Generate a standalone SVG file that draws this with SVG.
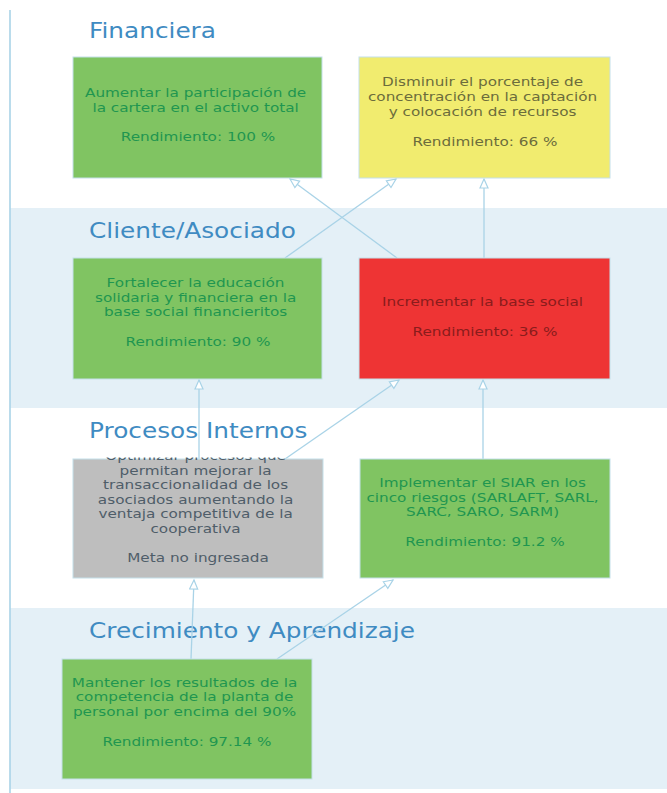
<svg xmlns="http://www.w3.org/2000/svg" width="667" height="793" viewBox="0 0 667 793">
  <style>
    .band { fill: #e4f0f7; }
    .title { font-family: "DejaVu Sans", Verdana, sans-serif; font-size: 21px; fill: #3f8bc2; }
    .box { stroke: #c4e0ea; stroke-width: 1; }
    .green { fill: #80c462; }
    .yellow { fill: #f1ec6f; }
    .red { fill: #ee3434; }
    .gray { fill: #bebebe; }
    .lbl { font-family: "DejaVu Sans", Verdana, sans-serif; font-size: 12.7px; text-anchor: middle; }
    .tg { fill: #1f9650; }
    .ty { fill: #6c6c3c; }
    .tr { fill: #8a1c1c; }
    .tx { fill: #4f5d69; }
    .conn { stroke: #a9d3e7; stroke-width: 1.3; fill: none; marker-end: url(#arr); }
  </style>
  <defs>
    <marker id="arr" markerUnits="userSpaceOnUse" markerWidth="12" markerHeight="12" refX="10" refY="5" orient="auto">
      <path d="M1,1 L10,5 L1,9 Z" fill="#ffffff" stroke="#a9d3e7" stroke-width="1.2"/>
    </marker>
    <clipPath id="clipGray">
      <rect x="73" y="457.5" width="250" height="121"/>
    </clipPath>
  </defs>

  <rect width="667" height="793" fill="#ffffff"/>
  <g id="bands">
    <rect class="band" x="10" y="208" width="657" height="200"/>
    <rect class="band" x="10" y="608" width="657" height="181"/>
    <line x1="10" y1="10" x2="10" y2="793" stroke="#a9d3e7" stroke-width="1.6"/>
  </g>

  <g id="titles">
    <text class="title" transform="matrix(1.18 0 0 1 89 38)" x="0" y="0">Financiera</text>
    <text class="title" transform="matrix(1.18 0 0 1 89 238)" x="0" y="0">Cliente/Asociado</text>
    <text class="title" transform="matrix(1.18 0 0 1 89 438)" x="0" y="0">Procesos Internos</text>
    <text class="title" transform="matrix(1.18 0 0 1 89 638)" x="0" y="0">Crecimiento y Aprendizaje</text>
  </g>

  <g id="connectors">
    <line class="conn" x1="397" y1="258" x2="290" y2="179"/>
    <line class="conn" x1="285" y1="258" x2="396" y2="179"/>
    <line class="conn" x1="484" y1="258" x2="484" y2="179"/>
    <line class="conn" x1="199" y1="459" x2="199" y2="380"/>
    <line class="conn" x1="285" y1="459" x2="399" y2="380"/>
    <line class="conn" x1="483" y1="459" x2="483" y2="380"/>
    <line class="conn" x1="191" y1="659" x2="194" y2="580"/>
    <line class="conn" x1="277" y1="659" x2="393" y2="580"/>
  </g>

  <g id="n-aumentar">
    <rect class="box green" x="73" y="57" width="249" height="121"/>
    <text class="lbl tg" transform="matrix(1.2 0 0 1 198 0)">
      <tspan x="0" y="97">Aumentar la participación de</tspan>
      <tspan x="0" y="112">la cartera en el activo total</tspan>
      <tspan x="0" y="141.5">Rendimiento: 100 %</tspan>
    </text>
  </g>

  <g id="n-disminuir">
    <rect class="box yellow" x="359" y="57" width="251" height="121"/>
    <text class="lbl ty" transform="matrix(1.2 0 0 1 485 0)">
      <tspan x="0" y="86">Disminuir el porcentaje de</tspan>
      <tspan x="0" y="101">concentración en la captación</tspan>
      <tspan x="0" y="116">y colocación de recursos</tspan>
      <tspan x="0" y="146">Rendimiento: 66 %</tspan>
    </text>
  </g>

  <g id="n-fortalecer">
    <rect class="box green" x="73" y="258" width="249" height="121"/>
    <text class="lbl tg" transform="matrix(1.2 0 0 1 198 0)">
      <tspan x="0" y="287">Fortalecer la educación</tspan>
      <tspan x="0" y="302">solidaria y financiera en la</tspan>
      <tspan x="0" y="316.5">base social financieritos</tspan>
      <tspan x="0" y="346.5">Rendimiento: 90 %</tspan>
    </text>
  </g>

  <g id="n-incrementar">
    <rect class="box red" x="359" y="258" width="251" height="121"/>
    <text class="lbl tr" transform="matrix(1.2 0 0 1 485 0)">
      <tspan x="0" y="306">Incrementar la base social</tspan>
      <tspan x="0" y="336">Rendimiento: 36 %</tspan>
    </text>
  </g>

  <g id="n-optimizar">
    <rect class="box gray" x="73" y="459" width="250" height="119"/>
    <g clip-path="url(#clipGray)">
      <text class="lbl tx" transform="matrix(1.2 0 0 1 198 0)">
        <tspan x="0" y="460.5">Optimizar procesos que</tspan>
        <tspan x="0" y="475">permitan mejorar la</tspan>
        <tspan x="0" y="489.5">transaccionalidad de los</tspan>
        <tspan x="0" y="504">asociados aumentando la</tspan>
        <tspan x="0" y="518.5">ventaja competitiva de la</tspan>
        <tspan x="0" y="533">cooperativa</tspan>
        <tspan x="0" y="562.5">Meta no ingresada</tspan>
      </text>
    </g>
  </g>

  <g id="n-implementar">
    <rect class="box green" x="360" y="459" width="250" height="119"/>
    <text class="lbl tg" transform="matrix(1.2 0 0 1 485 0)">
      <tspan x="0" y="487">Implementar el SIAR en los</tspan>
      <tspan x="0" y="502">cinco riesgos (SARLAFT, SARL,</tspan>
      <tspan x="0" y="516.5">SARC, SARO, SARM)</tspan>
      <tspan x="0" y="546.5">Rendimiento: 91.2 %</tspan>
    </text>
  </g>

  <g id="n-mantener">
    <rect class="box green" x="62" y="659" width="250" height="120"/>
    <text class="lbl tg" transform="matrix(1.2 0 0 1 187 0)">
      <tspan x="0" y="687">Mantener los resultados de la</tspan>
      <tspan x="0" y="701.5">competencia de la planta de</tspan>
      <tspan x="0" y="716">personal por encima del 90%</tspan>
      <tspan x="0" y="746.5">Rendimiento: 97.14 %</tspan>
    </text>
  </g>
</svg>
